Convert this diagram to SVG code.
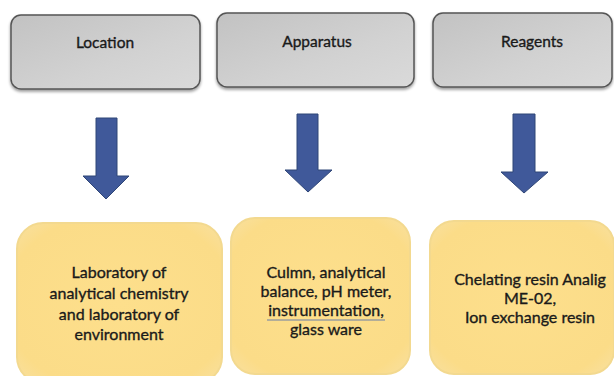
<svg xmlns="http://www.w3.org/2000/svg" width="614" height="376" viewBox="0 0 614 376">
<defs>
<linearGradient id="gray" x1="0" y1="0" x2="1" y2="1">
<stop offset="0" stop-color="#c2c2c2"/>
<stop offset="0.6" stop-color="#d2d2d2"/>
<stop offset="1" stop-color="#dadada"/>
</linearGradient>
<radialGradient id="yel" cx="0.5" cy="0.5" r="0.7">
<stop offset="0" stop-color="#fddf8c"/>
<stop offset="0.8" stop-color="#fbdc88"/>
<stop offset="1" stop-color="#f8e0a0"/>
</radialGradient>
<filter id="sh" x="-10%" y="-10%" width="120%" height="130%">
<feGaussianBlur in="SourceAlpha" stdDeviation="1.5"/>
<feOffset dx="0" dy="2" result="b"/>
<feComponentTransfer><feFuncA type="linear" slope="0.4"/></feComponentTransfer>
<feMerge><feMergeNode/><feMergeNode in="SourceGraphic"/></feMerge>
</filter>
</defs>
<style>
.top{fill:url(#gray);stroke:#555;stroke-width:1.5;filter:url(#sh)}
.bot{fill:url(#yel);stroke:#f3d98f;stroke-width:2}
.arrow{fill:#40599a;stroke:#2f4677;stroke-width:1}
.t1{font-family:Lato,"Open Sans",sans-serif;font-size:15.5px;fill:#1a1a1a;stroke:#1a1a1a;stroke-width:0.35;text-anchor:middle}
.t2{font-family:Lato,"Open Sans",sans-serif;font-size:16px;fill:#1a1a1a;stroke:#1a1a1a;stroke-width:0.35;text-anchor:middle}
</style>
<rect width="614" height="376" fill="#ffffff"/>
<g id="location">
<rect class="top" x="11" y="15" width="189" height="74" rx="10"/>
<text class="t1" x="105" y="48">Location</text>
</g>
<g id="apparatus">
<rect class="top" x="217" y="13" width="197" height="74" rx="10"/>
<text class="t1" x="317" y="47">Apparatus</text>
</g>
<g id="reagents">
<rect class="top" x="433" y="13" width="179" height="74" rx="10"/>
<text class="t1" x="532" y="47">Reagents</text>
</g>
<g id="connectors">
<polygon class="arrow" points="96,118 117,118 117,176 129,176 106,199 83,176 96,176"/>
<polygon class="arrow" points="297,114 318,114 318,170 332,170 308,192 285,170 297,170"/>
<polygon class="arrow" points="513,114 535,114 535,172 548,172 524,193 501,172 513,172"/>
</g>
<g id="lab">
<rect class="bot" x="17" y="223" width="205" height="160" rx="26"/>
<text class="t2" x="119" y="278">Laboratory of</text>
<text class="t2" x="119" y="299">analytical chemistry</text>
<text class="t2" x="119" y="320">and laboratory of</text>
<text class="t2" x="119" y="340">environment</text>
</g>
<g id="equipment">
<rect class="bot" x="231" y="218" width="179" height="156" rx="24"/>
<text class="t2" x="326" y="278">Culmn, analytical</text>
<text class="t2" x="326" y="297">balance, pH meter,</text>
<text class="t2" x="326" y="316">instrumentation,</text>
<line x1="267" y1="320" x2="385" y2="320" stroke="#6a7fa8" stroke-width="1"/>
<text class="t2" x="326" y="335">glass ware</text>
</g>
<g id="resin">
<rect class="bot" x="430" y="221" width="184" height="153" rx="24"/>
<text class="t2" x="530" y="285">Chelating resin Analig</text>
<text class="t2" x="530" y="304">ME-02,</text>
<text class="t2" x="530" y="323">Ion exchange resin</text>
</g>
</svg>
